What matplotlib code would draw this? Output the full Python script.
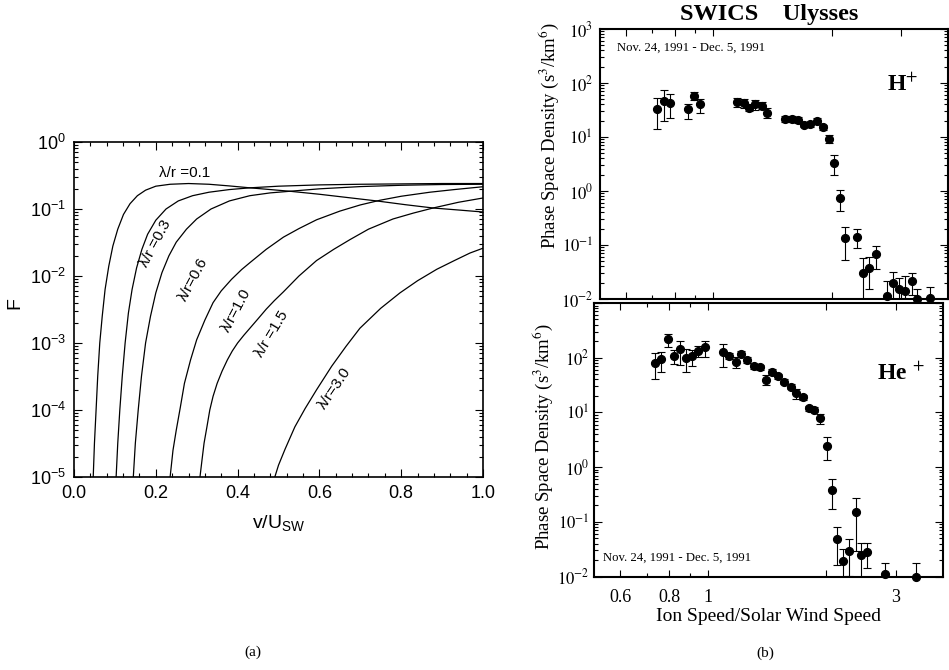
import numpy as np
import matplotlib
matplotlib.use("Agg")
import matplotlib.pyplot as plt
from matplotlib.ticker import MultipleLocator, LogLocator, NullFormatter, FixedLocator

plt.rcParams['mathtext.fontset'] = 'custom'
plt.rcParams['mathtext.rm'] = 'Liberation Sans'
plt.rcParams['mathtext.it'] = 'Liberation Sans:italic'
plt.rcParams['mathtext.bf'] = 'Liberation Sans:bold'

SANS = 'Liberation Sans'
SERIF = 'Liberation Serif'

# ---------------- panel (a): model distribution F(v/Usw) ----------------
v_l01 = [0.047, 0.050, 0.054, 0.058, 0.063, 0.069, 0.076, 0.085, 0.095, 0.107,
         0.121, 0.137, 0.155, 0.175, 0.20, 0.235, 0.28, 0.33, 0.38, 0.43, 0.48,
         0.528, 0.60, 0.67, 0.74, 0.81, 0.878, 0.94, 1.0]
F_l01 = [1.0e-5, 3.2e-5, 1.0e-4, 3.2e-4, 1.0e-3, 2.5e-3, 6.3e-3, 1.4e-2, 2.8e-2, 5.0e-2,
         8.3e-2, 0.120, 0.158, 0.191, 0.219, 0.234, 0.240, 0.234, 0.221, 0.207, 0.195,
         0.184, 0.166, 0.148, 0.132, 0.116, 0.1035, 0.0966, 0.0902]

v_l03 = [0.103, 0.107, 0.112, 0.118, 0.125, 0.133, 0.142, 0.153, 0.166, 0.18, 0.20,
         0.225, 0.255, 0.29, 0.33, 0.38, 0.43, 0.50, 0.60, 0.70, 0.80, 0.90, 1.0]
F_l03 = [1.0e-5, 3.2e-5, 1.0e-4, 3.2e-4, 1.0e-3, 2.8e-3, 6.3e-3, 1.32e-2, 2.5e-2, 4.2e-2, 6.8e-2,
         0.100, 0.132, 0.158, 0.178, 0.195, 0.207, 0.219, 0.229, 0.234, 0.237, 0.240, 0.240]

v_l06 = [0.145, 0.150, 0.157, 0.165, 0.175, 0.187, 0.20, 0.215, 0.232, 0.25, 0.275,
         0.30, 0.335, 0.38, 0.43, 0.48, 0.528, 0.60, 0.70, 0.80, 0.90, 1.0]
F_l06 = [1.0e-5, 3.2e-5, 1.0e-4, 3.2e-4, 1.0e-3, 2.5e-3, 5.6e-3, 1.12e-2, 2.0e-2, 3.2e-2, 5.0e-2,
         7.1e-2, 0.100, 0.132, 0.158, 0.174, 0.184, 0.200, 0.216, 0.226, 0.232, 0.234]

v_l10 = [0.235, 0.242, 0.25, 0.26, 0.27, 0.285, 0.30, 0.32, 0.34, 0.36, 0.385, 0.41, 0.43,
         0.47, 0.512, 0.55, 0.593, 0.65, 0.70, 0.748, 0.80, 0.87, 0.93, 1.0]
F_l10 = [1.0e-5, 2.5e-5, 5.0e-5, 1.1e-4, 2.5e-4, 5.6e-4, 1.12e-3, 2.2e-3, 4.0e-3, 6.0e-3,
         8.9e-3, 1.25e-2, 1.58e-2, 2.5e-2, 3.8e-2, 5.1e-2, 6.9e-2,
         9.3e-2, 0.115, 0.135, 0.155, 0.178, 0.195, 0.215]

v_l15 = [0.308, 0.313, 0.318, 0.325, 0.332, 0.34, 0.35, 0.362, 0.375, 0.387, 0.40, 0.415,
         0.43, 0.45, 0.47, 0.49, 0.512, 0.55, 0.593, 0.635, 0.675, 0.72, 0.78, 0.83, 0.878,
         0.94, 1.0]
F_l15 = [1.0e-5, 1.8e-5, 3.2e-5, 5.6e-5, 1.0e-4, 1.6e-4, 2.5e-4, 3.8e-4, 5.6e-4, 7.6e-4,
         1.0e-3, 1.3e-3, 1.66e-3, 2.3e-3, 3.2e-3, 4.3e-3, 5.8e-3, 1.0e-2, 1.7e-2,
         2.5e-2, 3.5e-2, 5.0e-2, 7.1e-2, 8.7e-2, 0.1035, 0.126, 0.146]

v_l30 = [0.491, 0.50, 0.516, 0.54, 0.565, 0.593, 0.63, 0.665, 0.699, 0.75, 0.797,
         0.84, 0.887, 0.93, 0.968, 1.0]
F_l30 = [1.0e-5, 1.5e-5, 2.6e-5, 5.6e-5, 1.05e-4, 2.0e-4, 4.5e-4, 8.9e-4, 1.66e-3, 3.3e-3, 5.6e-3,
         8.5e-3, 1.26e-2, 1.7e-2, 2.2e-2, 2.6e-2]

curve_v = [v_l01, v_l03, v_l06, v_l10, v_l15, v_l30]
curve_F = [F_l01, F_l03, F_l06, F_l10, F_l15, F_l30]
curve_labels = [r"λ/r =0.1", r"λ/r =0.3", r"λ/r=0.6", r"λ/r=1.0", r"λ/r =1.5", r"λ/r=3.0"]

a_xticks = [0.0, 0.2, 0.4, 0.6, 0.8, 1.0]
a_xticklabels = ["0.0", "0.2", "0.4", "0.6", "0.8", "1.0"]
a_yticks = [1e-5, 1e-4, 1e-3, 1e-2, 1e-1, 1e0]
a_yticklabels = [r"$10^{-5}$", r"$10^{-4}$", r"$10^{-3}$", r"$10^{-2}$", r"$10^{-1}$", r"$10^{0}$"]

# ---------------- panel (b): SWICS Ulysses phase space densities ----------------
h_w = [0.720, 0.748, 0.775, 0.863, 0.895, 0.927, 1.148, 1.194, 1.234, 1.278, 1.329, 1.373,
       1.523, 1.584, 1.637, 1.702, 1.763, 1.833, 1.898, 1.970, 2.032, 2.101, 2.167, 2.324,
       2.399, 2.493, 2.593, 2.770, 2.869, 2.971, 3.076, 3.193, 3.300, 3.554]
h_f = [33.7, 47.4, 42.1, 32.7, 57.9, 40.4, 45.1, 42.1, 34.9, 40.4, 38.0, 28.2,
       21.3, 21.3, 20.7, 16.7, 17.2, 20.0, 15.1, 9.18, 3.34, 0.733, 0.136, 0.143,
       0.0299, 0.038, 0.0673, 0.01136, 0.020, 0.0153, 0.01425, 0.0216, 0.0100, 0.01057]
h_lo = [13.9, 19.8, 22.2, 22.0, 48.4, 28.2, 36.4, 34.0, 30.3, 31.6, 33.0, 22.2,
        19.0, 19.0, 18.5, 15.0, 15.4, 18.0, 13.5, 7.64, 1.98, 0.431, 0.0527, 0.089,
        0.008, 0.0151, 0.0355, 0.008, 0.008, 0.008, 0.008, 0.01186, 0.008, 0.008]
h_hi = [52.0, 74.0, 61.8, 41.7, 69.0, 50.6, 53.5, 49.9, 40.8, 48.4, 44.5, 34.0,
        24.0, 24.0, 23.0, 18.6, 19.2, 22.3, 16.9, 10.9, 4.64, 1.04, 0.213, 0.198,
        0.0582, 0.0607, 0.097, 0.0218, 0.0312, 0.0242, 0.0267, 0.0307, 0.0151, 0.0169]

he_w = [0.734, 0.763, 0.793, 0.820, 0.849, 0.883, 0.915, 0.945, 0.983, 1.094, 1.133, 1.178,
        1.218, 1.261, 1.308, 1.355, 1.404, 1.454, 1.505, 1.562, 1.622, 1.679, 1.740, 1.807,
        1.861, 1.932, 2.001, 2.061, 2.122, 2.197, 2.280, 2.375, 2.445, 2.537, 2.818, 3.366]
he_f = [80.9, 93.5, 218.0, 109.0, 145.0, 100.0, 108.0, 135.0, 160.0, 126.0, 108.0, 82.3,
        117.0, 90.7, 70.4, 66.5, 38.8, 55.2, 46.0, 36.1, 29.7, 22.9, 18.9, 12.0,
        11.2, 7.85, 2.47, 0.377, 0.0492, 0.0196, 0.0296, 0.150, 0.025, 0.0275, 0.0109, 0.0098]
he_lo = [40.6, 55.2, 160.0, 75.5, 73.4, 55.2, 70.4, 104.0, 104.0, 68.2, 95.0, 63.8,
         105.0, 81.0, 63.0, 59.0, 31.4, 50.0, 41.5, 32.5, 26.8, 17.9, 17.0, 10.8,
         10.1, 6.01, 1.35, 0.173, 0.0164, 0.008, 0.0103, 0.0288, 0.008, 0.0142, 0.008, 0.008]
he_hi = [120.0, 129.0, 270.0, 139.0, 205.0, 143.0, 139.0, 166.0, 205.0, 179.0, 120.0, 104.0,
         130.0, 101.0, 78.0, 74.0, 48.0, 61.0, 51.0, 40.0, 33.0, 27.3, 21.0, 13.3,
         12.4, 9.46, 3.51, 0.601, 0.0796, 0.032, 0.0492, 0.269, 0.0408, 0.0408, 0.0173, 0.0173]

b_xticks = [0.6, 0.8, 1.0, 2.0, 3.0]
b_xticklabels = ["0.6", "0.8", "1", "", "3"]
b_yticks = [1e-2, 1e-1, 1e0, 1e1, 1e2, 1e3]
b_yticklabels = [r"$10^{-2}$", r"$10^{-1}$", r"$10^{0}$", r"$10^{1}$", r"$10^{2}$", r"$10^{3}$"]

W, H = 949, 670
fig = plt.figure(figsize=(W / 100, H / 100), dpi=100)
fig.patch.set_facecolor('white')


def px_axes(left, top, right, bottom):
    return fig.add_axes([left / W, 1 - bottom / H, (right - left) / W, (bottom - top) / H])


# ---- panel (a)
axA = px_axes(74, 142, 483, 477)
for v, F in zip(curve_v, curve_F):
    axA.plot(v, F, color='black', lw=0.9)
axA.set_yscale('log')
axA.set_xlim(0.0, 1.0)
axA.set_ylim(1e-5, 1.0)
axA.xaxis.set_major_locator(FixedLocator(a_xticks))
axA.xaxis.set_minor_locator(MultipleLocator(0.04))
axA.set_xticklabels(a_xticklabels, fontfamily=SANS, fontsize=13)
axA.set_yticks(a_yticks)
axA.set_yticklabels(a_yticklabels, fontfamily=SANS, fontsize=13)
axA.yaxis.set_minor_locator(LogLocator(base=10, subs=np.arange(2, 10), numticks=20))
axA.yaxis.set_minor_formatter(NullFormatter())
axA.tick_params(which='both', direction='in', top=True, right=True, width=0.8)
axA.tick_params(which='major', length=6, pad=6)
axA.tick_params(which='minor', length=3)
for s in axA.spines.values():
    s.set_linewidth(1.2)
axA.set_ylabel('F', fontfamily=SANS, fontsize=14, va='center')
axA.yaxis.set_label_coords(-0.144, 0.52)
axA.set_xlabel(r'v/U$_{\rm SW}$', fontfamily=SANS, fontsize=14, va='center')
axA.xaxis.set_label_coords(0.5, -0.138)

# curve annotations
label_pos = [(0.271, 0.347, 0), (0.200, 0.031, 62), (0.292, 8.9e-3, 62),
             (0.398, 3.1e-3, 62), (0.483, 1.35e-3, 59), (0.637, 2.1e-4, 56)]
for (x, y, rot), txt in zip(label_pos, curve_labels):
    axA.text(x, y, txt, rotation=rot, rotation_mode='anchor', ha='center', va='center',
             fontfamily=SANS, fontsize=11)

fig.text(253 / W, 1 - 652 / H, '(a)', ha='center', va='center', fontfamily=SERIF, fontsize=11)

# ---- panel (b)
axT = px_axes(600, 29, 948, 299)
axB = px_axes(594, 303, 943, 576.5)


def style_b(ax, show_x, ypad):
    ax.set_xscale('log')
    ax.set_yscale('log')
    ax.set_xlim(0.515, 3.95)
    ax.set_ylim(1e-2, 1e3)
    ax.xaxis.set_major_locator(FixedLocator(b_xticks))
    ax.xaxis.set_minor_locator(FixedLocator([0.7, 0.9]))
    ax.xaxis.set_minor_formatter(NullFormatter())
    if show_x:
        ax.set_xticklabels(b_xticklabels, fontfamily=SERIF, fontsize=13, math_fontfamily='stix')
    else:
        ax.set_xticklabels([])
    ax.set_yticks(b_yticks)
    ylabels = list(b_yticklabels) if not show_x else list(b_yticklabels[:-1]) + ['']
    ax.set_yticklabels(ylabels, fontfamily=SERIF, fontsize=12, math_fontfamily='stix')
    ax.yaxis.set_minor_locator(LogLocator(base=10, subs=np.arange(2, 10), numticks=20))
    ax.yaxis.set_minor_formatter(NullFormatter())
    ax.tick_params(which='both', direction='in', top=True, right=True, width=0.8)
    ax.tick_params(axis='y', which='major', length=6, pad=ypad)
    ax.tick_params(axis='x', which='major', length=5, pad=9)
    ax.tick_params(which='minor', length=3)
    for s in ax.spines.values():
        s.set_linewidth(1.5)
    ax.set_ylabel(r'Phase Space Density (s$^3$/km$^6$)', fontfamily=SERIF, fontsize=13.5,
                  math_fontfamily='stix', va='center')


def draw_points(ax, w, f, lo, hi):
    w = np.array(w); f = np.array(f); lo = np.array(lo); hi = np.array(hi)
    ax.errorbar(w, f, yerr=[f - lo, hi - f], fmt='none', ecolor='black', elinewidth=0.8,
                capsize=2.6, capthick=0.8)
    ax.plot(w, f, 'o', color='black', ms=5.6, clip_on=False, zorder=3)


style_b(axT, False, 5)
draw_points(axT, h_w, h_f, h_lo, h_hi)
axT.yaxis.set_label_coords(-0.148, 0.604)

style_b(axB, True, 3)
draw_points(axB, he_w, he_f, he_lo, he_hi)
axB.yaxis.set_label_coords(-0.148, 0.51)
axB.set_xlabel('Ion Speed/Solar Wind Speed', fontfamily=SERIF, fontsize=14, va='center')
axB.xaxis.set_label_coords(0.5, -0.148)

axT.text(0.049, 0.93, 'Nov. 24, 1991 - Dec. 5, 1991', transform=axT.transAxes,
         ha='left', va='center', fontfamily=SERIF, fontsize=9.2)
axB.text(0.026, 0.068, 'Nov. 24, 1991 - Dec. 5, 1991', transform=axB.transAxes,
         ha='left', va='center', fontfamily=SERIF, fontsize=9.2)
axT.text(0.825, 0.793, r'H$^{+}$', transform=axT.transAxes, ha='left', va='center',
         fontfamily=SERIF, fontsize=17, fontweight='bold', math_fontfamily='stix')
axB.text(0.811, 0.742, r'He $^{+}$', transform=axB.transAxes, ha='left', va='center',
         fontfamily=SERIF, fontsize=17, fontweight='bold', math_fontfamily='stix')
axT.text(0.487, 1.052, 'SWICS    Ulysses', transform=axT.transAxes, ha='center', va='center',
         fontfamily=SERIF, fontsize=17.5, fontweight='bold')

fig.text(765 / W, 1 - 653 / H, '(b)', ha='center', va='center', fontfamily=SERIF, fontsize=11)

fig.savefig('out.png', dpi=100)
